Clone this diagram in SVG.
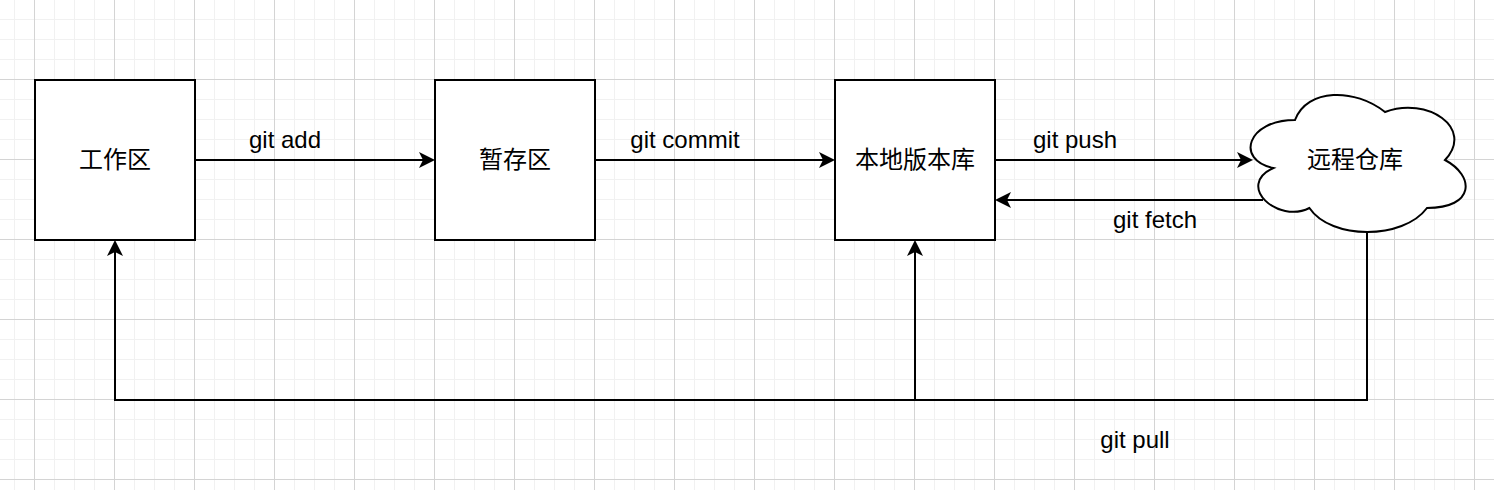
<svg xmlns="http://www.w3.org/2000/svg" width="1494" height="490" viewBox="0 0 1494 490">
  <style>
    .node { fill: #ffffff; stroke: #000000; stroke-width: 2; }
    .edge { fill: none; stroke: #000000; stroke-width: 2; }
    .lbl { font-family: "Liberation Sans", "Noto Sans CJK SC", sans-serif; font-size: 24px; fill: #000000; text-anchor: middle; }
    .elbl { font-family: "Liberation Sans", Arial, sans-serif; font-size: 24px; fill: #000000; text-anchor: middle; }
  </style>
  <defs>
    <pattern id="grid" patternUnits="userSpaceOnUse" x="34" y="-1" width="80" height="80">
      <rect x="0" y="0" width="80" height="80" fill="#ffffff"/>
      <rect x="20" y="0" width="1" height="80" fill="#f1f1f1"/>
      <rect x="40" y="0" width="1" height="80" fill="#f1f1f1"/>
      <rect x="60" y="0" width="1" height="80" fill="#f1f1f1"/>
      <rect x="0" y="20" width="80" height="1" fill="#f1f1f1"/>
      <rect x="0" y="40" width="80" height="1" fill="#f1f1f1"/>
      <rect x="0" y="60" width="80" height="1" fill="#f1f1f1"/>
      <rect x="0" y="0" width="1" height="80" fill="#d4d4d4"/>
      <rect x="0" y="0" width="80" height="1" fill="#d4d4d4"/>
    </pattern>
    <marker id="arrow" markerUnits="userSpaceOnUse" orient="auto" overflow="visible" markerWidth="20" markerHeight="20" refX="0" refY="0">
      <path d="M6,0 L-10,-8 L-6,0 L-10,8 Z" fill="#000000" stroke="none"/>
    </marker>
  </defs>
  <rect x="0" y="0" width="1494" height="490" fill="url(#grid)"/>

  <g id="connectors">
    <g id="edge-git-add">
      <path class="edge" d="M195,160 H429" marker-end="url(#arrow)"/>
      <text class="elbl" x="285" y="148">git add</text>
    </g>
    <g id="edge-git-commit">
      <path class="edge" d="M595,160 H829" marker-end="url(#arrow)"/>
      <text class="elbl" x="685" y="148">git commit</text>
    </g>
    <g id="edge-git-push">
      <path class="edge" d="M995,160 H1247" marker-end="url(#arrow)"/>
      <text class="elbl" x="1075" y="148">git push</text>
    </g>
    <g id="edge-git-fetch">
      <path class="edge" d="M1263,200 H1001" marker-end="url(#arrow)"/>
      <text class="elbl" x="1155" y="228">git fetch</text>
    </g>
    <g id="edge-git-pull">
      <path class="edge" d="M1367,232 V400 H115 V246" marker-end="url(#arrow)"/>
      <path class="edge" d="M915,400 V246" marker-end="url(#arrow)"/>
      <text class="elbl" x="1135" y="448">git pull</text>
    </g>
  </g>

  <g id="node-workspace">
    <rect class="node" x="35" y="80" width="160" height="160"/>
    <text class="lbl" x="115" y="168">工作区</text>
  </g>
  <g id="node-staging">
    <rect class="node" x="435" y="80" width="160" height="160"/>
    <text class="lbl" x="515" y="168">暂存区</text>
  </g>
  <g id="node-local-repo">
    <rect class="node" x="835" y="80" width="160" height="160"/>
    <text class="lbl" x="915" y="168">本地版本库</text>
  </g>
  <g id="node-remote-repo">
    <path class="node" d="M1295,120 C1247,120 1235,160 1273.4,168 C1235,185.6 1278.2,224 1309.4,208 C1331,240 1403,240 1427,208 C1475,208 1475,176 1445,160 C1475,128 1427,96 1385,112 C1355,88 1307,88 1295,120 Z"/>
    <text class="lbl" x="1355" y="168">远程仓库</text>
  </g>
</svg>
